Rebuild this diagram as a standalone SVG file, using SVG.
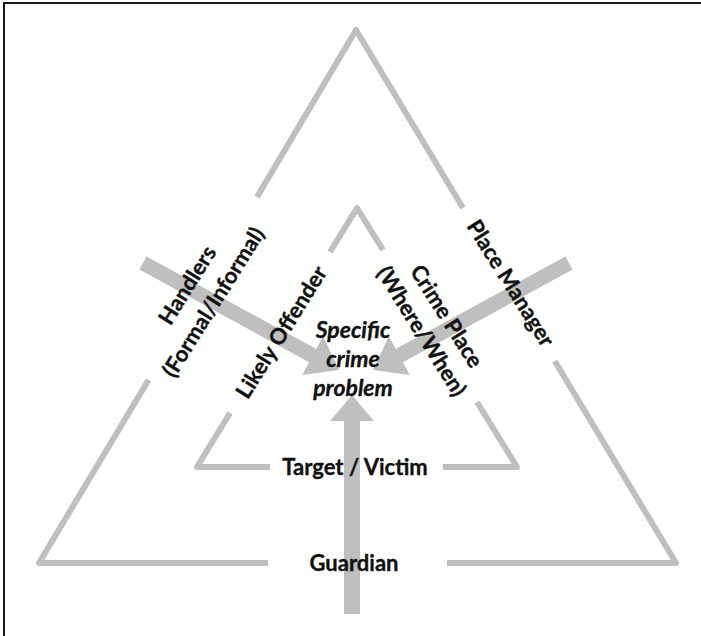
<svg xmlns="http://www.w3.org/2000/svg" width="701" height="636" viewBox="0 0 701 636">
  <style>
    .tri { fill: none; stroke: #bfbfbf; stroke-width: 6; stroke-linejoin: round; stroke-linecap: butt; }
    .arrow { fill: #bfbfbf; stroke: none; }
    .lbl { font-family: Lato, "Open Sans", "Liberation Sans", sans-serif; font-weight: bold; font-size: 22px; fill: #111111; stroke: #111111; stroke-width: 0.35; text-anchor: middle; }
    .it { font-style: italic; font-size: 23px; }
    .frame { fill: none; stroke: #1a1a1a; stroke-width: 2; }
  </style>
  <rect x="0" y="0" width="701" height="636" fill="#ffffff"/>
  <path class="frame" d="M4,636 L4,3 L701,3"/>

  <g id="outer-triangle">
    <polyline class="tri" points="257,197 356,30 463,208"/>
    <polyline class="tri" points="148.5,380 39,563 268,563"/>
    <polyline class="tri" points="447,563 676,563 554.7,361"/>
  </g>

  <g id="inner-triangle">
    <polyline class="tri" points="330,252 357,208 383,250"/>
    <polyline class="tri" points="230,413 197,467 270,467"/>
    <polyline class="tri" points="443,467 517,467 477,402"/>
  </g>

  <g id="connectors">
    <polygon id="arrow-handlers" class="arrow" points="146.6,256.4 316.25,349.04 323.2,336.3 339,370 302.1,375 309.1,362.2 139.4,269.6"/>
    <polygon id="arrow-place-manager" class="arrow" points="565.4,256.4 395.75,349.04 388.8,336.3 373,370 409.9,375 402.9,362.2 572.6,269.6"/>
    <polygon id="arrow-guardian" class="arrow" points="344,614 344,421 330,421 352,395 374,421 360,421 360,614"/>
  </g>

  <g id="node-handlers">
    <text class="lbl" transform="translate(187,285) rotate(-58)" y="8">Handlers</text>
    <text class="lbl" transform="translate(213,302) rotate(-58)" y="8">(Formal/Informal)</text>
  </g>
  <g id="node-likely-offender">
    <text class="lbl" transform="translate(281,332) rotate(-58)" y="8">Likely Offender</text>
  </g>
  <g id="node-place-manager">
    <text class="lbl" transform="translate(511,283) rotate(58)" y="8">Place Manager</text>
  </g>
  <g id="node-crime-place">
    <text class="lbl" transform="translate(447,316) rotate(58)" y="8">Crime Place</text>
    <text class="lbl" transform="translate(422,331) rotate(58)" y="8">(Where/When)</text>
  </g>
  <g id="node-specific-crime-problem">
    <text class="lbl it" x="353" y="338">Specific</text>
    <text class="lbl it" x="353" y="367">crime</text>
    <text class="lbl it" x="353" y="396">problem</text>
  </g>
  <g id="node-target-victim">
    <text class="lbl" x="355" y="475">Target / Victim</text>
  </g>
  <g id="node-guardian">
    <text class="lbl" x="354" y="571">Guardian</text>
  </g>
</svg>
